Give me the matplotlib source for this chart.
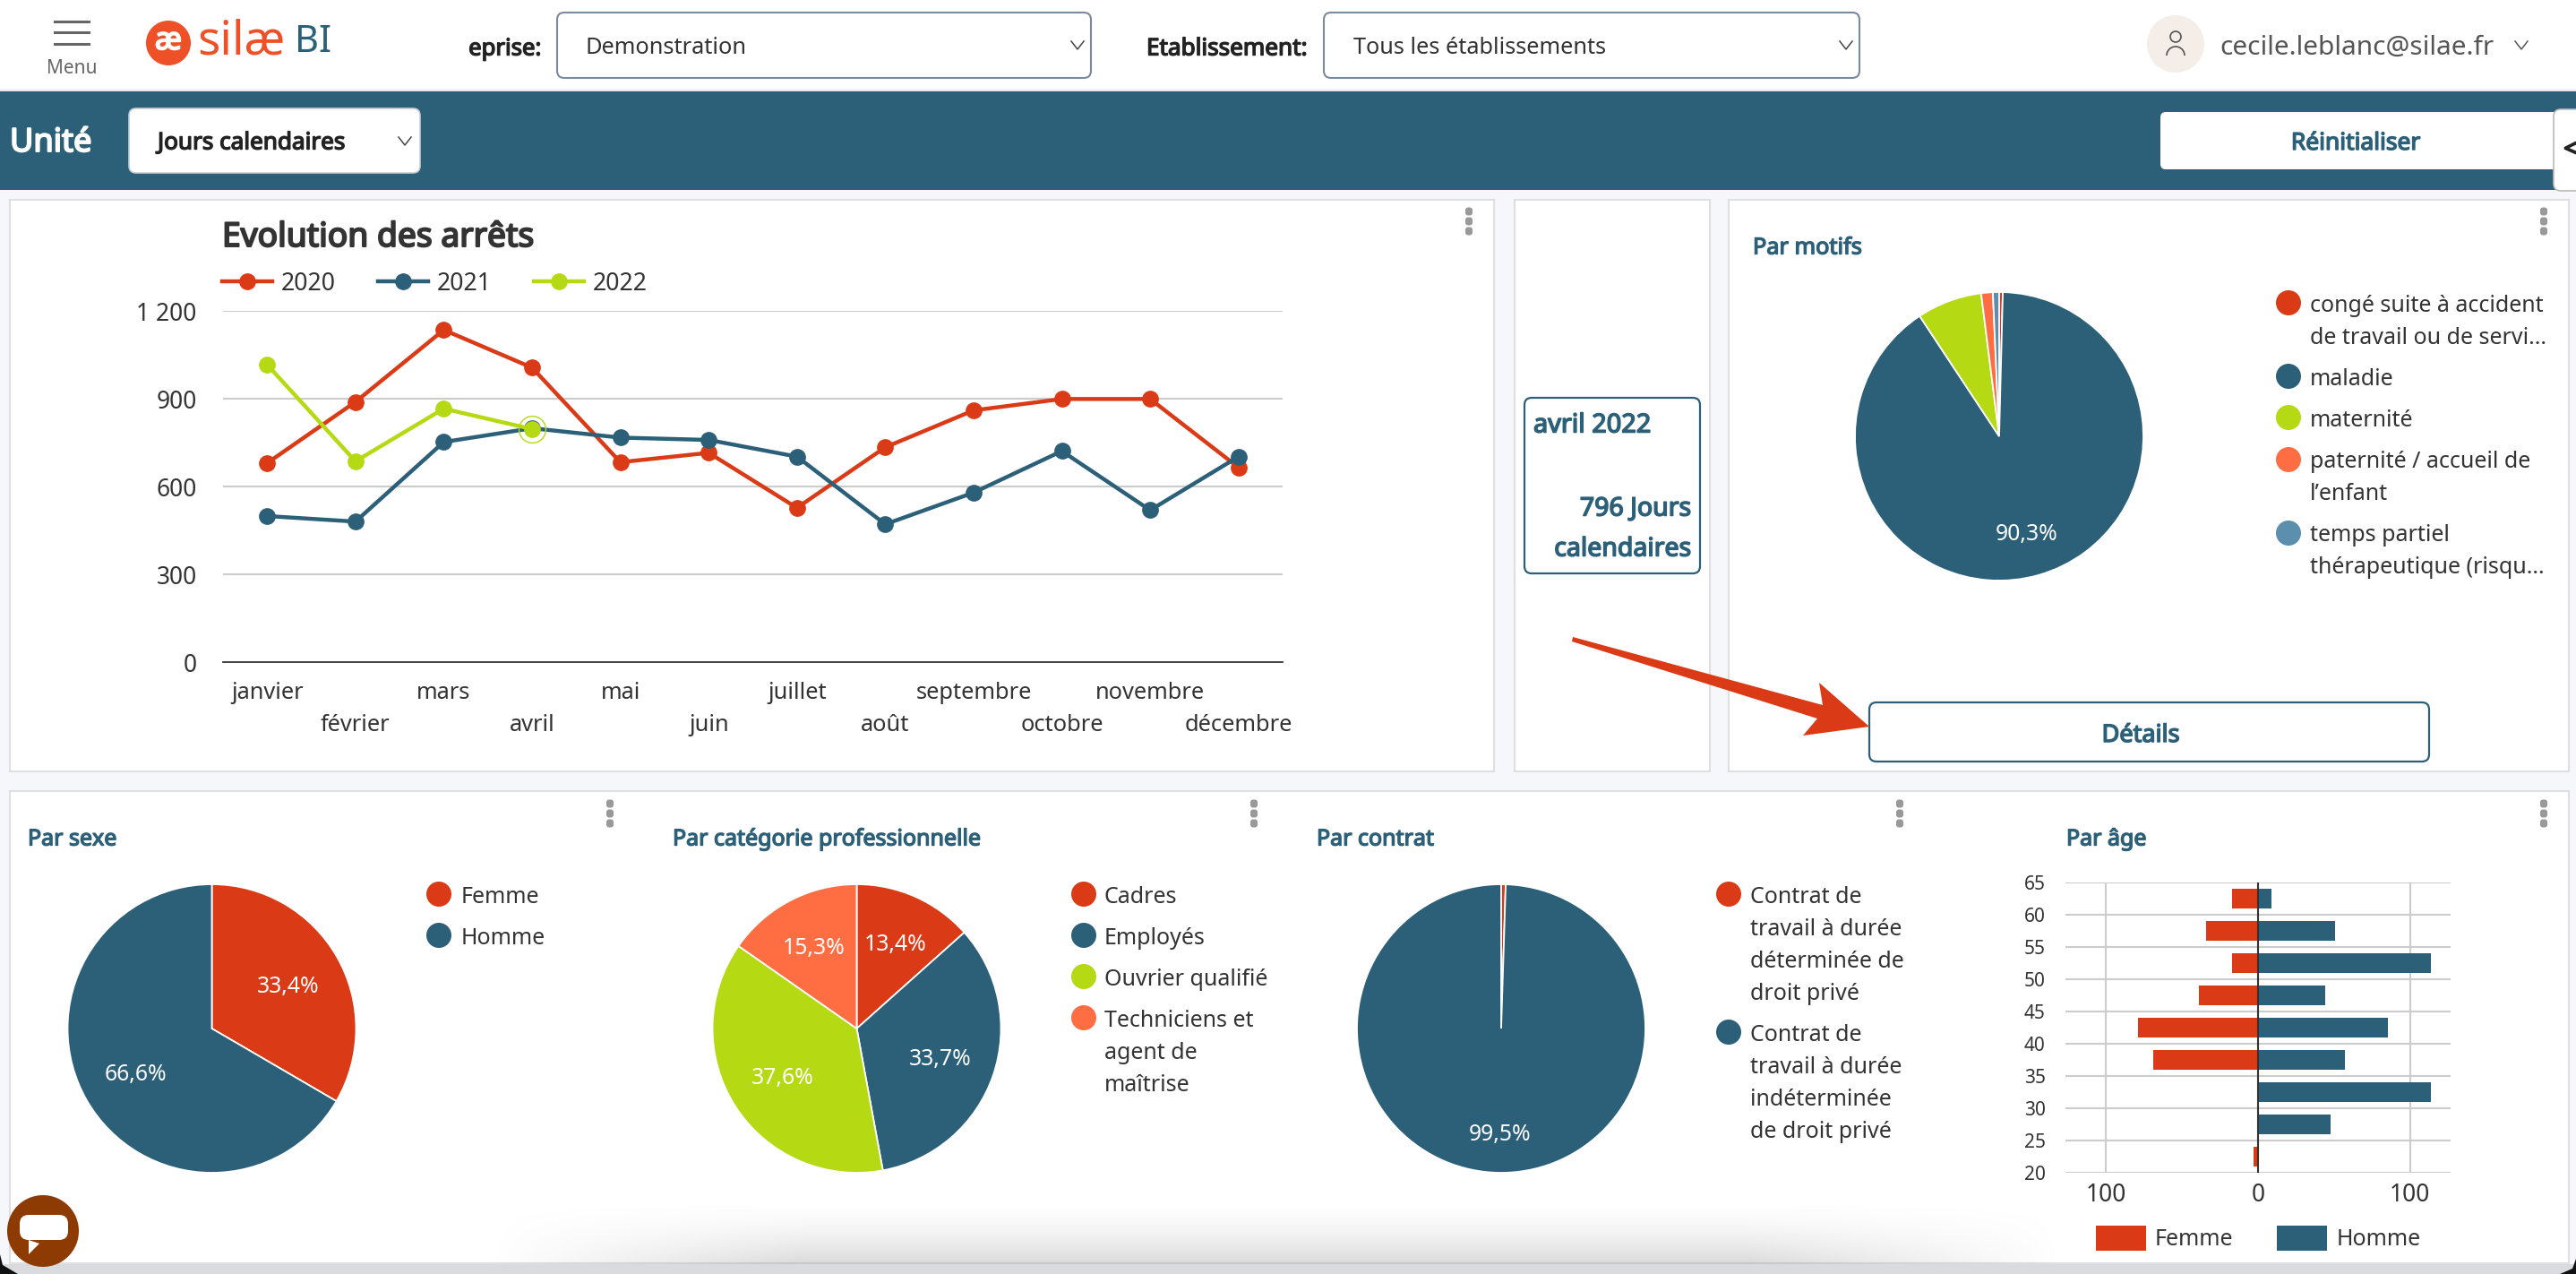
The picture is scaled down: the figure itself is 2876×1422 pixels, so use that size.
import numpy as np
import matplotlib
matplotlib.use('Agg')
import matplotlib.pyplot as plt
import matplotlib.patheffects as pe
from matplotlib.patches import Rectangle, Circle, FancyBboxPatch, Polygon, Arc

plt.rcParams['font.family'] = ['Noto Sans', 'DejaVu Sans']

W, H = 2876, 1422
BLUE = '#2C6079'
RED = '#DA3A16'
GREEN = '#B5D912'
ORANGE = '#FF6D42'
STEEL = '#5B8FAD'
DARK = '#333333'
GRID = '#CCCCCC'

# donnees
mois = ['janvier', 'février', 'mars', 'avril', 'mai', 'juin', 'juillet', 'août',
        'septembre', 'octobre', 'novembre', 'décembre']
arrets_2020 = [680, 889, 1135, 1006, 683, 715, 527, 734, 860, 899, 899, 665]
arrets_2021 = [499, 480, 752, 799, 767, 759, 702, 471, 579, 721, 519, 702]
arrets_2022 = [1016, 686, 866, 796]
ticks_arrets = [0, 300, 600, 900, 1200]
ticks_arrets_lab = ['0', '300', '600', '900', '1 200']

motifs_val = [0.4, 90.3, 7.3, 1.3, 0.7]
sexe_val = [33.4, 66.6]
categorie_val = [13.4, 33.7, 37.6, 15.3]
contrat_val = [0.5, 99.5]

ages = [20, 25, 30, 35, 40, 45, 50, 55, 60, 65]
age_femme = [3, 0, 0, 69, 79, 39, 17, 34.5, 17]
age_homme = [0, 48, 114, 57, 85.5, 44, 114, 51, 9]

fig = plt.figure(figsize=(W / 100, H / 100), dpi=100, facecolor='#F5F7FB')

bg = fig.add_axes([0, 0, 1, 1], zorder=0)
bg.set_xlim(0, W)
bg.set_ylim(H, 0)
bg.axis('off')


def px_axes(x0, y0, x1, y1):
    ax = fig.add_axes([x0 / W, 1 - y1 / H, (x1 - x0) / W, (y1 - y0) / H], zorder=1)
    ax.patch.set_alpha(0)
    return ax


def txt(x, y, s, size=18, color=DARK, bold=False, ha='left', z=5):
    # la police installee n'a pas de graisse : on epaissit le trait
    t = bg.text(x, y + 3, s, fontsize=size, color=color, ha=ha, va='center', zorder=z)
    if bold:
        t.set_path_effects([pe.withStroke(linewidth=size * 0.055, foreground=color)])


def rbox(x0, y0, x1, y1, fc='white', ec='none', lw=1.0, r=6, z=2):
    bg.add_patch(FancyBboxPatch((x0, y0), x1 - x0, y1 - y0, boxstyle=f'round,pad=0,rounding_size={r}',
                                fc=fc, ec=ec, lw=lw, zorder=z))


def chevron(x, y, c='#444444'):
    bg.plot([x - 7, x, x + 7], [y - 4, y + 5, y - 4], color=c, lw=1.1, zorder=5)


def dots(x, y):
    for dy in (-11, 0, 11):
        rbox(x - 4, y + dy - 4.5, x + 4, y + dy + 4.5, fc='#999999', r=3, z=3)


def panel(x0, y0, x1, y1):
    bg.add_patch(Rectangle((x0, y0), x1 - x0, y1 - y0, fc='white', ec='#DDDFE3', lw=1.5, zorder=1))


# bandeau du haut
bg.add_patch(Rectangle((0, 0), W, 100, fc='white', ec='none', zorder=1))
bg.add_patch(Rectangle((0, 100), W, 2, fc='#E6E8EB', ec='none', zorder=1))
bg.add_patch(Rectangle((0, 102), W, 110, fc=BLUE, ec='none', zorder=1))

for y in (24, 36, 49):
    bg.plot([61, 99], [y, y], color='#666666', lw=2.2, zorder=3)
txt(80, 74, 'Menu', size=15, color='#666666', ha='center')
bg.add_patch(Circle((188, 48), 25, fc='#EE5028', ec='none', zorder=3))
txt(188, 43, 'æ', size=25, color='white', bold=True, ha='center')
txt(220, 44, 'silæ', size=38, color='#EE5028')
txt(329, 44, 'BI', size=30, color=BLUE)

txt(604, 52, 'eprise:', size=18.5, color='#222222', bold=True, ha='right')
rbox(622, 14, 1218, 87, ec='#7B8A9C', lw=1.5, r=8)
txt(654, 51, 'Demonstration', size=18.3, color='#333333')
chevron(1203, 50)
txt(1280, 52, 'Etablissement:', size=18.8, color='#222222', bold=True)
rbox(1478, 14, 2076, 87, ec='#7B8A9C', lw=1.5, r=8)
txt(1511, 51, 'Tous les établissements', size=18.2, color='#333333')
chevron(2061, 50)
bg.add_patch(Circle((2429, 49), 32, fc='#F5EDE7', ec='none', zorder=3))
bg.add_patch(Circle((2429, 41), 6, fc='none', ec='#555555', lw=1.2, zorder=4))
bg.add_patch(Arc((2429, 62), 20, 20, theta1=180, theta2=360, ec='#555555', lw=1.2, zorder=4))
txt(2478, 50, 'cecile.leblanc@silae.fr', size=21.5, color='#555555')
chevron(2815, 50, '#555555')

txt(11, 157, 'Unité', size=26, color='white', bold=True)
rbox(144, 121, 469, 193, ec='#C9CCD0', lw=1.2, r=8)
txt(176, 157, 'Jours calendaires', size=18.8, color='#222222', bold=True)
chevron(452, 157)
rbox(2412, 125, 2870, 189, r=6)
txt(2630, 157, 'Réinitialiser', size=19, color=BLUE, bold=True, ha='center')
rbox(2851, 122, 2890, 213, ec='#BBBBBB', lw=1.2, r=8, z=3)
txt(2862, 165, '<', size=22, color='#222222', bold=True)

# panneaux
panel(11, 223, 1668, 861)
panel(1691, 223, 1909, 861)
panel(1930, 223, 2868, 861)
panel(11, 883, 2868, 1410)
dots(1640, 247)
dots(2840, 247)
dots(681, 908)
dots(1400, 908)
dots(2121, 908)
dots(2840, 908)
bg.add_patch(Rectangle((0, 1411), W, 11, fc='#D9DBDE', ec='none', zorder=1))

# ombre en bas de page
xs = np.linspace(0, 1, 400)
ys = np.linspace(0, 1, 60)
alpha = np.outer(ys ** 1.6, np.clip(np.minimum(xs, 1 - xs) * 5, 0, 1))
ombre = np.zeros((60, 400, 4))
ombre[..., :3] = 0.62
ombre[..., 3] = alpha * 0.38
bg.imshow(ombre, extent=(550, 2300, 1411, 1340), aspect='auto', zorder=1.5, interpolation='bilinear')
bg.set_xlim(0, W)
bg.set_ylim(H, 0)

# evolution des arrets
txt(248, 263, 'Evolution des arrêts', size=26.8, color=DARK, bold=True)
ax = px_axes(249, 347, 1432, 739)
x = np.arange(len(mois))
for vals, c in ((arrets_2020, RED), (arrets_2021, BLUE), (arrets_2022, GREEN)):
    ax.plot(x[:len(vals)], vals, color=c, lw=3.2, marker='o', ms=13.5, mew=0, clip_on=False, zorder=3)
ax.plot(x[3], arrets_2022[3], marker='o', ms=21.5, mfc='none', mec=GREEN, mew=1, clip_on=False, zorder=4)
ax.set_xlim(-0.5, 11.5)
ax.set_ylim(0, 1200)
ax.set_yticks(ticks_arrets)
ax.set_yticklabels(ticks_arrets_lab)
ax.set_xticks(x)
ax.set_xticklabels(mois)
ax.tick_params(length=0, labelcolor=DARK)
ax.tick_params(axis='y', pad=21, labelsize=19)
ax.tick_params(axis='x', labelsize=18.3)
for i, t in enumerate(ax.xaxis.get_major_ticks()):
    t.set_pad(16 if i % 2 == 0 else 42)
ax.grid(axis='y', color=GRID, lw=1.5)
ax.yaxis.get_major_ticks()[0].gridline.set_visible(False)
ax.set_axisbelow(True)
for s in ('top', 'left', 'right'):
    ax.spines[s].set_visible(False)
ax.spines['bottom'].set_color(DARK)
ax.spines['bottom'].set_linewidth(1.3)

for x0, c, lab in ((248, RED, '2020'), (422, BLUE, '2021'), (596, GREEN, '2022')):
    bg.plot([x0, x0 + 56], [314, 314], color=c, lw=3.2, zorder=3)
    bg.plot([x0 + 28], [314], marker='o', ms=13.5, mew=0, color=c, zorder=4)
    txt(x0 + 66, 313.5, lab, size=19.2)

# encart avril
rbox(1702, 444, 1898, 640, ec=BLUE, lw=1.6, r=8)
txt(1712, 472, 'avril 2022', size=20.8, color=BLUE, bold=True)
txt(1888, 565, '796 Jours', size=20.5, color=BLUE, bold=True, ha='right')
txt(1888, 610, 'calendaires', size=20.5, color=BLUE, bold=True, ha='right')


def draw_pie(cx, cy, vals, colors, label_r):
    r = 161
    m = 1.02 * r
    a = px_axes(cx - m, cy - m, cx + m, cy + m)
    wedges, _ = a.pie(vals, colors=colors, startangle=90, counterclock=False, radius=1,
                      wedgeprops=dict(edgecolor='white', linewidth=1.3))
    a.set_xlim(-1.02, 1.02)
    a.set_ylim(-1.02, 1.02)
    k = 0
    for w, v in zip(wedges, vals):
        if v < 10:
            continue
        ang = np.deg2rad((w.theta1 + w.theta2) / 2)
        a.text(label_r[k] * np.cos(ang), label_r[k] * np.sin(ang) - 0.014, f'{v:.1f}%'.replace('.', ','),
               color='white', fontsize=17.8, ha='center', va='center')
        k += 1


def legend_pie(dot_x, text_x, rows):
    for y, c, lab in rows:
        if c is not None:
            bg.add_patch(Circle((dot_x, y), 14, fc=c, ec='none', zorder=3))
        txt(text_x, y, lab, size=18)


# par motifs
txt(1957, 274, 'Par motifs', size=18.2, color=BLUE, bold=True)
draw_pie(2232, 487, motifs_val, [RED, BLUE, GREEN, ORANGE, STEEL], [0.69])
legend_pie(2555, 2579, [
    (338, RED, 'congé suite à accident'), (375, None, 'de travail ou de servi...'),
    (420, BLUE, 'maladie'), (466, GREEN, 'maternité'),
    (513, ORANGE, 'paternité / accueil de'), (549, None, 'l’enfant'),
    (595, STEEL, 'temps partiel'), (630, None, 'thérapeutique (risqu...')])
rbox(2087, 784, 2712, 850, ec=BLUE, lw=1.6, r=8)
txt(2390, 818, 'Détails', size=19.5, color=BLUE, bold=True, ha='center')
bg.add_patch(Polygon([(1756, 711), (2035, 787), (2031, 762), (2087, 811), (2013, 821), (2029, 802), (1755, 716)],
                     fc=RED, ec='none', zorder=6))

# ligne du bas
txt(31, 934, 'Par sexe', size=18, color=BLUE, bold=True)
draw_pie(236.5, 1148, sexe_val, [RED, BLUE], [0.61, 0.61])
legend_pie(490, 515, [(998, RED, 'Femme'), (1044, BLUE, 'Homme')])

txt(751, 934, 'Par catégorie professionnelle', size=18, color=BLUE, bold=True)
draw_pie(956.5, 1148, categorie_val, [RED, BLUE, GREEN, ORANGE], [0.65, 0.61, 0.61, 0.64])
legend_pie(1210, 1233, [
    (998, RED, 'Cadres'), (1044, BLUE, 'Employés'), (1090, GREEN, 'Ouvrier qualifié'),
    (1136, ORANGE, 'Techniciens et'), (1173, None, 'agent de'), (1209, None, 'maîtrise')])

txt(1470, 934, 'Par contrat', size=18, color=BLUE, bold=True)
draw_pie(1676, 1148, contrat_val, [RED, BLUE], [0.72])
legend_pie(1930, 1954, [
    (998, RED, 'Contrat de'), (1035, None, 'travail à durée'), (1071, None, 'déterminée de'),
    (1107, None, 'droit privé'), (1152, BLUE, 'Contrat de'), (1189, None, 'travail à durée'),
    (1225, None, 'indéterminée'), (1261, None, 'de droit privé')])

# par age
txt(2307, 934, 'Par âge', size=18, color=BLUE, bold=True)
ax = px_axes(2306, 985, 2736, 1309)
centres = [a + 2.5 for a in ages[:-1]]
ax.barh(centres, [-v for v in age_femme], height=3.05, color=RED, zorder=2)
ax.barh(centres, age_homme, height=3.05, color=BLUE, zorder=2)
ax.axvline(0, color=DARK, lw=1.5, zorder=3)
ax.set_xlim(-126.8, 126.8)
ax.set_ylim(20, 65)
ax.set_yticks(ages)
ax.set_xticks([-100, 0, 100])
ax.set_xticklabels(['100', '0', '100'])
ax.tick_params(length=0)
ax.tick_params(axis='x', labelsize=19, labelcolor=DARK, pad=8)
ax.tick_params(axis='y', labelsize=15, labelcolor=DARK, pad=16)
ax.grid(color=GRID, lw=1.5, zorder=1)
ax.set_axisbelow(True)
for s in ax.spines.values():
    s.set_visible(False)
bg.add_patch(Rectangle((2340, 1368), 56, 28, fc=RED, ec='none', zorder=3))
txt(2406, 1381, 'Femme', size=18)
bg.add_patch(Rectangle((2542, 1368), 56, 28, fc=BLUE, ec='none', zorder=3))
txt(2609, 1381, 'Homme', size=18)

# bulle de chat et coins
bg.add_patch(Circle((48, 1374), 40, fc='#8E3B03', ec='none', zorder=6))
rbox(22, 1356, 76, 1384, fc='white', r=10, z=7)
bg.add_patch(Polygon([(32, 1384), (44, 1388), (32, 1400)], fc='white', ec='none', zorder=7))
bg.add_patch(Polygon([(0, 1400), (3, 1412), (20, 1422), (0, 1422)], fc='#111111', ec='none', zorder=5))
bg.add_patch(Polygon([(2876, 1405), (2872, 1416), (2858, 1422), (2876, 1422)], fc='#111111', ec='none', zorder=5))

fig.savefig('out.png', dpi=100, facecolor=fig.get_facecolor())
